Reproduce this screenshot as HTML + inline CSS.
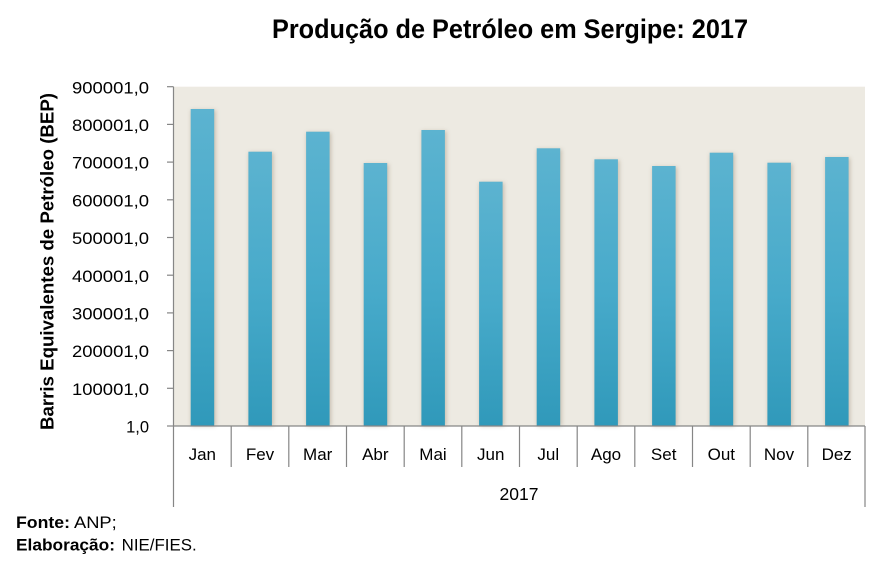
<!DOCTYPE html>
<html>
<head>
<meta charset="utf-8">
<style>
html,body{margin:0;padding:0;background:#fff;}
svg{display:block;}
text{font-family:"Liberation Sans","DejaVu Sans",sans-serif;fill:#000;}
</style>
</head>
<body>
<svg width="886" height="572" viewBox="0 0 886 572" xmlns="http://www.w3.org/2000/svg">
<defs>
<linearGradient id="bg" x1="0" y1="0" x2="0" y2="1">
<stop offset="0" stop-color="#5CB3D0"/>
<stop offset="0.5" stop-color="#47AACA"/>
<stop offset="1" stop-color="#3099BA"/>
</linearGradient>
<filter id="sh" x="-50%" y="-10%" width="200%" height="120%">
<feGaussianBlur stdDeviation="2.2"/>
</filter>
</defs>

<text x="510" y="38" font-size="27" font-weight="bold" text-anchor="middle" textLength="476" lengthAdjust="spacingAndGlyphs">Produção de Petróleo em Sergipe: 2017</text>

<rect x="173.5" y="86.7" width="691.5" height="339.3" fill="#EDEAE2"/>

<g id="bars">
<!-- shadows -->
<g fill="#B9AE9C" opacity="0.75" filter="url(#sh)">
<rect x="191.2" y="110" width="24.5" height="316"/>
<rect x="248.9" y="152.7" width="24.5" height="273.3"/>
<rect x="306.6" y="132.7" width="24.5" height="293.3"/>
<rect x="364.2" y="164" width="24.5" height="262"/>
<rect x="421.9" y="131" width="24.5" height="295"/>
<rect x="479.6" y="182.7" width="24.5" height="243.3"/>
<rect x="537.2" y="149.3" width="24.5" height="276.7"/>
<rect x="594.9" y="160.3" width="24.5" height="265.7"/>
<rect x="652.6" y="167" width="24.5" height="259"/>
<rect x="710.2" y="153.7" width="24.5" height="272.3"/>
<rect x="767.9" y="163.7" width="24.5" height="262.3"/>
<rect x="825.6" y="158" width="24.5" height="268"/>
</g>
<g fill="url(#bg)">
<rect x="190.7" y="109" width="23.5" height="317"/>
<rect x="248.4" y="151.7" width="23.5" height="274.3"/>
<rect x="306.1" y="131.7" width="23.5" height="294.3"/>
<rect x="363.7" y="163" width="23.5" height="263"/>
<rect x="421.4" y="130" width="23.5" height="296"/>
<rect x="479.1" y="181.7" width="23.5" height="244.3"/>
<rect x="536.7" y="148.3" width="23.5" height="277.7"/>
<rect x="594.4" y="159.3" width="23.5" height="266.7"/>
<rect x="652.1" y="166" width="23.5" height="260"/>
<rect x="709.7" y="152.7" width="23.5" height="273.3"/>
<rect x="767.4" y="162.7" width="23.5" height="263.3"/>
<rect x="825.1" y="157" width="23.5" height="269"/>
</g>
</g>

<g stroke="#868686" stroke-width="1.2" fill="none">
<line x1="173.5" y1="86.7" x2="173.5" y2="507"/>
<line x1="173" y1="426" x2="865" y2="426"/>
<line x1="865" y1="426" x2="865" y2="507"/>
<line x1="167" y1="86.7" x2="173.5" y2="86.7"/>
<line x1="167" y1="124.4" x2="173.5" y2="124.4"/>
<line x1="167" y1="162.1" x2="173.5" y2="162.1"/>
<line x1="167" y1="199.8" x2="173.5" y2="199.8"/>
<line x1="167" y1="237.5" x2="173.5" y2="237.5"/>
<line x1="167" y1="275.2" x2="173.5" y2="275.2"/>
<line x1="167" y1="312.9" x2="173.5" y2="312.9"/>
<line x1="167" y1="350.6" x2="173.5" y2="350.6"/>
<line x1="167" y1="388.3" x2="173.5" y2="388.3"/>
<line x1="167" y1="426" x2="173.5" y2="426"/>
<line x1="231.2" y1="426" x2="231.2" y2="467"/>
<line x1="288.8" y1="426" x2="288.8" y2="467"/>
<line x1="346.5" y1="426" x2="346.5" y2="467"/>
<line x1="404.2" y1="426" x2="404.2" y2="467"/>
<line x1="461.8" y1="426" x2="461.8" y2="467"/>
<line x1="519.5" y1="426" x2="519.5" y2="467"/>
<line x1="577.2" y1="426" x2="577.2" y2="467"/>
<line x1="634.8" y1="426" x2="634.8" y2="467"/>
<line x1="692.5" y1="426" x2="692.5" y2="467"/>
<line x1="750.2" y1="426" x2="750.2" y2="467"/>
<line x1="807.8" y1="426" x2="807.8" y2="467"/>
</g>

<g font-size="16.5" text-anchor="end" fill="#000">
<text x="149" y="93.3" textLength="77" lengthAdjust="spacingAndGlyphs">900001,0</text>
<text x="149" y="131" textLength="77" lengthAdjust="spacingAndGlyphs">800001,0</text>
<text x="149" y="168.7" textLength="77" lengthAdjust="spacingAndGlyphs">700001,0</text>
<text x="149" y="206.4" textLength="77" lengthAdjust="spacingAndGlyphs">600001,0</text>
<text x="149" y="244.1" textLength="77" lengthAdjust="spacingAndGlyphs">500001,0</text>
<text x="149" y="281.8" textLength="77" lengthAdjust="spacingAndGlyphs">400001,0</text>
<text x="149" y="319.5" textLength="77" lengthAdjust="spacingAndGlyphs">300001,0</text>
<text x="149" y="357.2" textLength="77" lengthAdjust="spacingAndGlyphs">200001,0</text>
<text x="149" y="394.9" textLength="77" lengthAdjust="spacingAndGlyphs">100001,0</text>
<text x="149" y="432.3">1,0</text>
</g>

<g font-size="17" text-anchor="middle">
<text x="202.3" y="460">Jan</text>
<text x="260" y="460">Fev</text>
<text x="317.7" y="460">Mar</text>
<text x="375.3" y="460">Abr</text>
<text x="433" y="460">Mai</text>
<text x="490.7" y="460">Jun</text>
<text x="548.3" y="460">Jul</text>
<text x="606" y="460">Ago</text>
<text x="663.7" y="460">Set</text>
<text x="721.3" y="460">Out</text>
<text x="779" y="460">Nov</text>
<text x="836.7" y="460">Dez</text>
<text x="519" y="500" font-size="17.5">2017</text>
</g>

<text transform="translate(53.5,261.5) rotate(-90)" font-size="18.5" font-weight="bold" text-anchor="middle" textLength="337" lengthAdjust="spacingAndGlyphs">Barris Equivalentes de Petróleo (BEP)</text>

<g font-size="16.5">
<text x="16" y="528" font-weight="bold" textLength="54" lengthAdjust="spacingAndGlyphs">Fonte:</text>
<text x="74" y="528" textLength="42.7" lengthAdjust="spacingAndGlyphs">ANP;</text>
<text x="16" y="550.5" font-weight="bold" textLength="99" lengthAdjust="spacingAndGlyphs">Elaboração:</text>
<text x="121.7" y="550.5" textLength="75" lengthAdjust="spacingAndGlyphs">NIE/FIES.</text>
</g>
</svg>
</body>
</html>
